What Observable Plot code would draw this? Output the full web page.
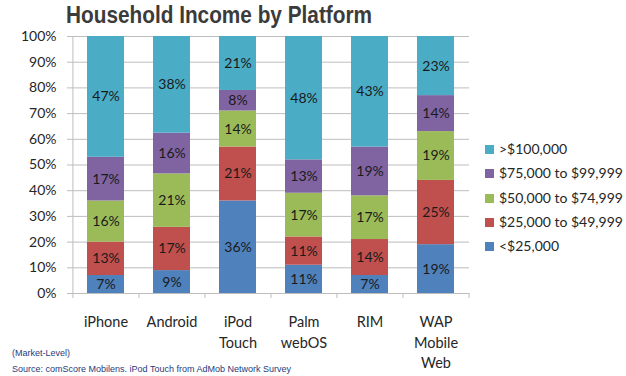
<!DOCTYPE html>
<html>
<head>
<meta charset="utf-8">
<script src="https://cdn.jsdelivr.net/npm/d3@7"></script>
<script src="https://cdn.jsdelivr.net/npm/@observablehq/plot@0.6"></script>
<style>
  html, body { margin: 0; padding: 0; background: #fff; }
  #wrap { position: relative; width: 626px; height: 376px; overflow: hidden; }
  #title { position: absolute; left: 66px; top: 0px; font-family: "Liberation Sans", Arial, sans-serif; font-weight: bold; font-size: 24px; color: #3b3b3b; white-space: nowrap; line-height: 30px; transform-origin: 0 0; }
  #chart { position: absolute; left: 0; top: 28px; }
  .leg { position: absolute; left: 485px; font-family: Lato, "Open Sans", sans-serif; font-size: 14px; color: #262626; white-space: nowrap; line-height: 16px; }
  .leg span.sw { display: inline-block; width: 9px; height: 9px; margin-right: 5px; vertical-align: 0px; }
  .foot { position: absolute; left: 12px; font-family: "Liberation Sans", Arial, sans-serif; font-size: 9px; color: #1f3a7a; white-space: nowrap; line-height: 10px; }
</style>
</head>
<body>
<div id="wrap">
  <div id="title"></div>
  <div id="chart"></div>
  <div id="legend"></div>
  <div id="footer"></div>
</div>
<script>
const titleText = "Household Income by Platform";
const platforms = ["iPhone", "Android", "iPod Touch", "Palm webOS", "RIM", "WAP Mobile Web"];
const platformLabels = ["iPhone", "Android", "iPod\nTouch", "Palm\nwebOS", "RIM", "WAP\nMobile\nWeb"];
const seriesNames = ["<$25,000", "$25,000 to $49,999", "$50,000 to $74,999", "$75,000 to $99,999", ">$100,000"];
const seriesColors = ["#4F81BD", "#C0504D", "#9BBB59", "#8064A2", "#4BACC6"];
const under25 = [7, 9, 36, 11, 7, 19];
const from25to50 = [13, 17, 21, 11, 14, 25];
const from50to75 = [16, 21, 14, 17, 17, 19];
const from75to100 = [17, 16, 8, 13, 19, 14];
const over100 = [47, 38, 21, 48, 43, 23];
const yTicks = [0, 0.1, 0.2, 0.3, 0.4, 0.5, 0.6, 0.7, 0.8, 0.9, 1];
const footNotes = ["(Market-Level)", "Source: comScore Mobilens. iPod Touch from AdMob Network Survey"];

const seriesValues = [under25, from25to50, from50to75, from75to100, over100];
const rows = [];
seriesNames.forEach((s, si) => {
  platforms.forEach((p, pi) => rows.push({platform: p, series: s, value: seriesValues[si][pi]}));
});
const labelOf = new Map(platforms.map((p, i) => [p, platformLabels[i]]));

const W = 626, H = 348;
const mL = 72, mR = 157, mT = 8, mB = 83;
const step = (W - mL - mR) / platforms.length;
const gridColor = "#bdbdbd";
const axisFont = "Lato, 'Open Sans', sans-serif";

const plot = Plot.plot({
  width: W, height: H,
  marginLeft: mL, marginRight: mR, marginTop: mT, marginBottom: mB,
  style: {fontFamily: axisFont, fontSize: "14px", color: "#262626", background: "#fff"},
  x: {domain: platforms, paddingInner: 0.44, paddingOuter: 0.22, label: null},
  y: {domain: [0, 1], label: null},
  color: {domain: seriesNames, range: seriesColors},
  marks: [
    Plot.gridY(yTicks, {stroke: gridColor, strokeOpacity: 1}),
    Plot.barY(rows, Plot.stackY({x: "platform", y: "value", fill: "series", offset: "normalize"})),
    Plot.text(rows, Plot.stackY({x: "platform", y: "value", z: "series", offset: "normalize", text: d => d.value + "%", fill: "#1a1a1a", fontSize: 14})),
    Plot.ruleX([platforms[0]], {dx: -step / 2, stroke: gridColor}),
    Plot.ruleY([0], {stroke: gridColor}),
    Plot.axisY(yTicks, {tickFormat: d3.format(".0%"), tickSize: 5, tickPadding: 11, stroke: gridColor, fill: "#262626", fontSize: 14, label: null}),
    Plot.axisX(platforms, {tickSize: 5, tickFormat: () => "", dx: -step / 2, stroke: gridColor, label: null}),
    Plot.axisX([platforms[platforms.length - 1]], {tickSize: 5, tickFormat: () => "", dx: step / 2, stroke: gridColor, label: null}),
    Plot.axisX(platforms, {tickSize: 0, tickPadding: 19, tickFormat: d => labelOf.get(d), lineHeight: 1.42, fill: "#262626", fontSize: 14.5, label: null})
  ]
});
document.getElementById("chart").appendChild(plot);
const titleEl = document.getElementById("title");
titleEl.textContent = titleText;
const tw = titleEl.getBoundingClientRect().width;
if (tw > 0) titleEl.style.transform = "scaleX(" + (306 / tw) + ")";

const legend = document.getElementById("legend");
seriesNames.slice().reverse().forEach((s, i) => {
  const color = seriesColors[seriesNames.indexOf(s)];
  const div = document.createElement("div");
  div.className = "leg";
  div.style.top = (141 + 24.3 * i) + "px";
  const sw = document.createElement("span");
  sw.className = "sw";
  sw.style.background = color;
  div.appendChild(sw);
  div.appendChild(document.createTextNode(s));
  legend.appendChild(div);
});
const footer = document.getElementById("footer");
footNotes.forEach((t, i) => {
  const div = document.createElement("div");
  div.className = "foot";
  div.style.top = (348 + 16 * i) + "px";
  div.textContent = t;
  footer.appendChild(div);
});
</script>
</body>
</html>
